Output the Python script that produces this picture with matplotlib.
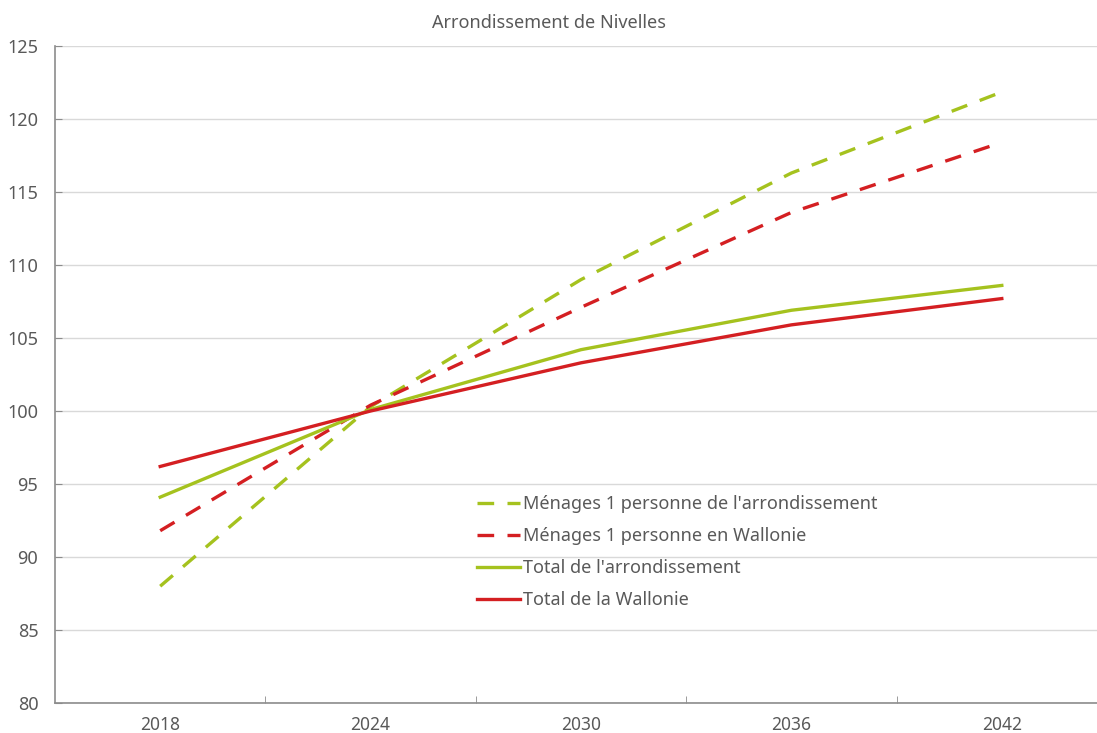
import numpy as np
import matplotlib
matplotlib.use("Agg")
import matplotlib.pyplot as plt

plt.rcParams["font.family"] = ["Noto Sans", "DejaVu Sans"]
plt.rcParams["font.size"] = 13

annees = ["2018", "2024", "2030", "2036", "2042"]
menages_arr = [88.0, 100.3, 109.0, 116.3, 121.85]
menages_wal = [91.8, 100.4, 107.1, 113.6, 118.4]
total_arr = [94.1, 100.1, 104.2, 106.9, 108.6]
total_wal = [96.2, 100.0, 103.3, 105.9, 107.7]

VERT = "#A5C21E"
ROUGE = "#D41F22"
GRIS = "#595959"

fig = plt.figure(figsize=(10.97, 7.33), dpi=100)
ax = fig.add_axes([55 / 1097, 1 - 703 / 733, 1052 / 1097, 657 / 733])
x = np.arange(len(annees))

ax.plot(x, menages_arr, color=VERT, lw=2.4, dashes=(5, 4), label="Ménages 1 personne de l'arrondissement")
ax.plot(x, menages_wal, color=ROUGE, lw=2.4, dashes=(5, 4), label="Ménages 1 personne en Wallonie")
ax.plot(x, total_arr, color=VERT, lw=2.4, label="Total de l'arrondissement")
ax.plot(x, total_wal, color=ROUGE, lw=2.4, label="Total de la Wallonie")

ax.set_xlim(-0.5, 4.5)
ax.set_ylim(80, 125)
ax.set_yticks(range(80, 126, 5))
ax.set_xticks(x)
ax.set_xticklabels(annees)
ax.set_xticks(np.arange(0.5, 4, 1), minor=True)
ax.tick_params(axis="x", which="major", length=0, colors=GRIS, labelsize=12.5, pad=9)
ax.tick_params(axis="x", which="minor", length=5, direction="in", color="#8c8c8c")
ax.tick_params(axis="y", length=5, direction="in", color="#8c8c8c", labelcolor=GRIS, labelsize=13, pad=12)

ax.grid(axis="y", color="#d9d9d9", lw=1)
ax.set_axisbelow(True)
for s in ["top", "right"]:
    ax.spines[s].set_visible(False)
for s in ["left", "bottom"]:
    ax.spines[s].set_color("#8c8c8c")
    ax.spines[s].set_linewidth(1.2)

fig.text(549 / 1097, 1 - 23 / 733, "Arrondissement de Nivelles", ha="center", va="center",
         color=GRIS, fontsize=13)

leg = ax.legend(loc="upper left", bbox_to_anchor=(477 / 1097, 1 - 495 / 733),
                bbox_transform=fig.transFigure, frameon=False, handlelength=2.4,
                handletextpad=0.15, labelspacing=0.78, borderpad=0, borderaxespad=0,
                fontsize=13)
for t in leg.get_texts():
    t.set_color(GRIS)

fig.savefig("out.png", dpi=100)
